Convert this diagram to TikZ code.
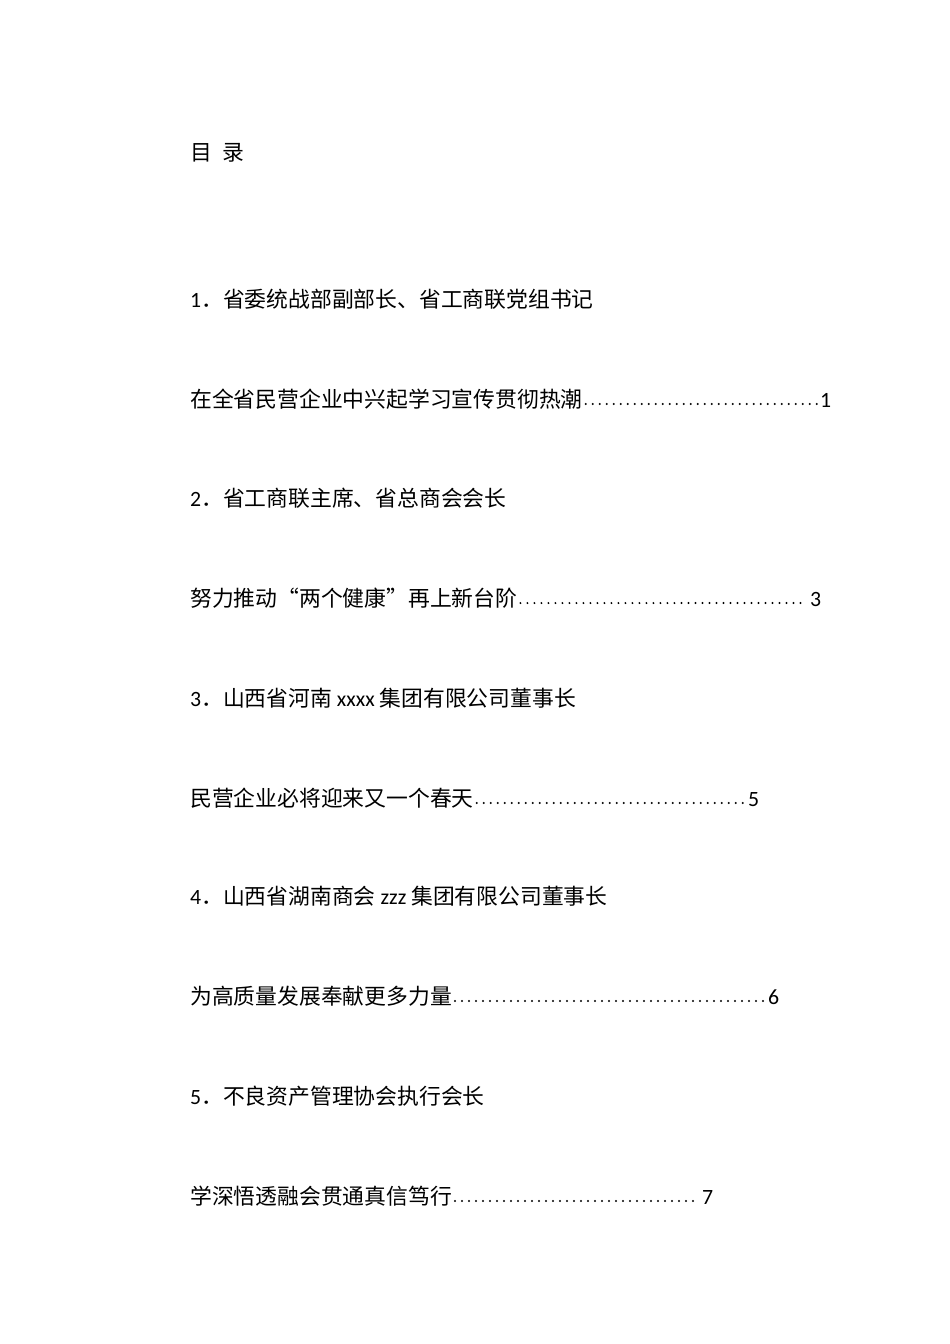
\documentclass[tikz,border=0pt]{standalone}
\usepackage{fontspec}
\setmainfont{Carlito}
\newfontfamily\cjk{Noto Sans CJK SC}
\begin{document}
\begin{tikzpicture}[x=1pt,y=-1pt,
  ln/.style={anchor=base west,inner sep=0pt,font=\fontsize{21.8}{24}\selectfont}]
\useasboundingbox[fill=white] (0,0) rectangle (950,1344);
\node[ln] (t) at (190,160) {\cjk 目\hspace{0.5em}录};
\node[ln] (a1) at (190,307) {1{\cjk ．}{\cjk 省委统战部副部长、省工商联党组书记}};
\node[ln] (b1) at (190,407) {\cjk 在全省民营企业中兴起学习宣传贯彻热潮};
\node[ln] (n1) at (820,407) {1};
\node[ln] (a2) at (190,506) {2{\cjk ．}{\cjk 省工商联主席、省总商会会长}};
\node[ln] (b2) at (190,606) {\cjk 努力推动“两个健康”再上新台阶};
\node[ln] (n2) at (810,606) {3};
\node[ln] (a3) at (190,706) {3{\cjk ．}{\cjk 山西省河南} xxxx {\cjk 集团有限公司董事长}};
\node[ln] (b3) at (190,806) {\cjk 民营企业必将迎来又一个春天};
\node[ln] (n3) at (748,806) {5};
\node[ln] (a4) at (190,904) {4{\cjk ．}{\cjk 山西省湖南商会} zzz {\cjk 集团有限公司董事长}};
\node[ln] (b4) at (190,1004) {\cjk 为高质量发展奉献更多力量};
\node[ln] (n4) at (768,1004) {6};
\node[ln] (a5) at (190,1104) {5{\cjk ．}{\cjk 不良资产管理协会执行会长}};
\node[ln] (b5) at (190,1204) {\cjk 学深悟透融会贯通真信笃行};
\node[ln] (n5) at (702,1204) {7};
\foreach \b/\n in {b1/n1,b2/n2,b3/n3,b4/n4,b5/n5}{
  \path (\b.base east) ++(3,0) coordinate (s) (\n.base west) ++(-3,0) coordinate (e);
  \draw[line width=2.2pt,line cap=round,dash pattern=on 0pt off 7pt] ([yshift=3]s) -- ([yshift=3]e);
}
\end{tikzpicture}
\end{document}
